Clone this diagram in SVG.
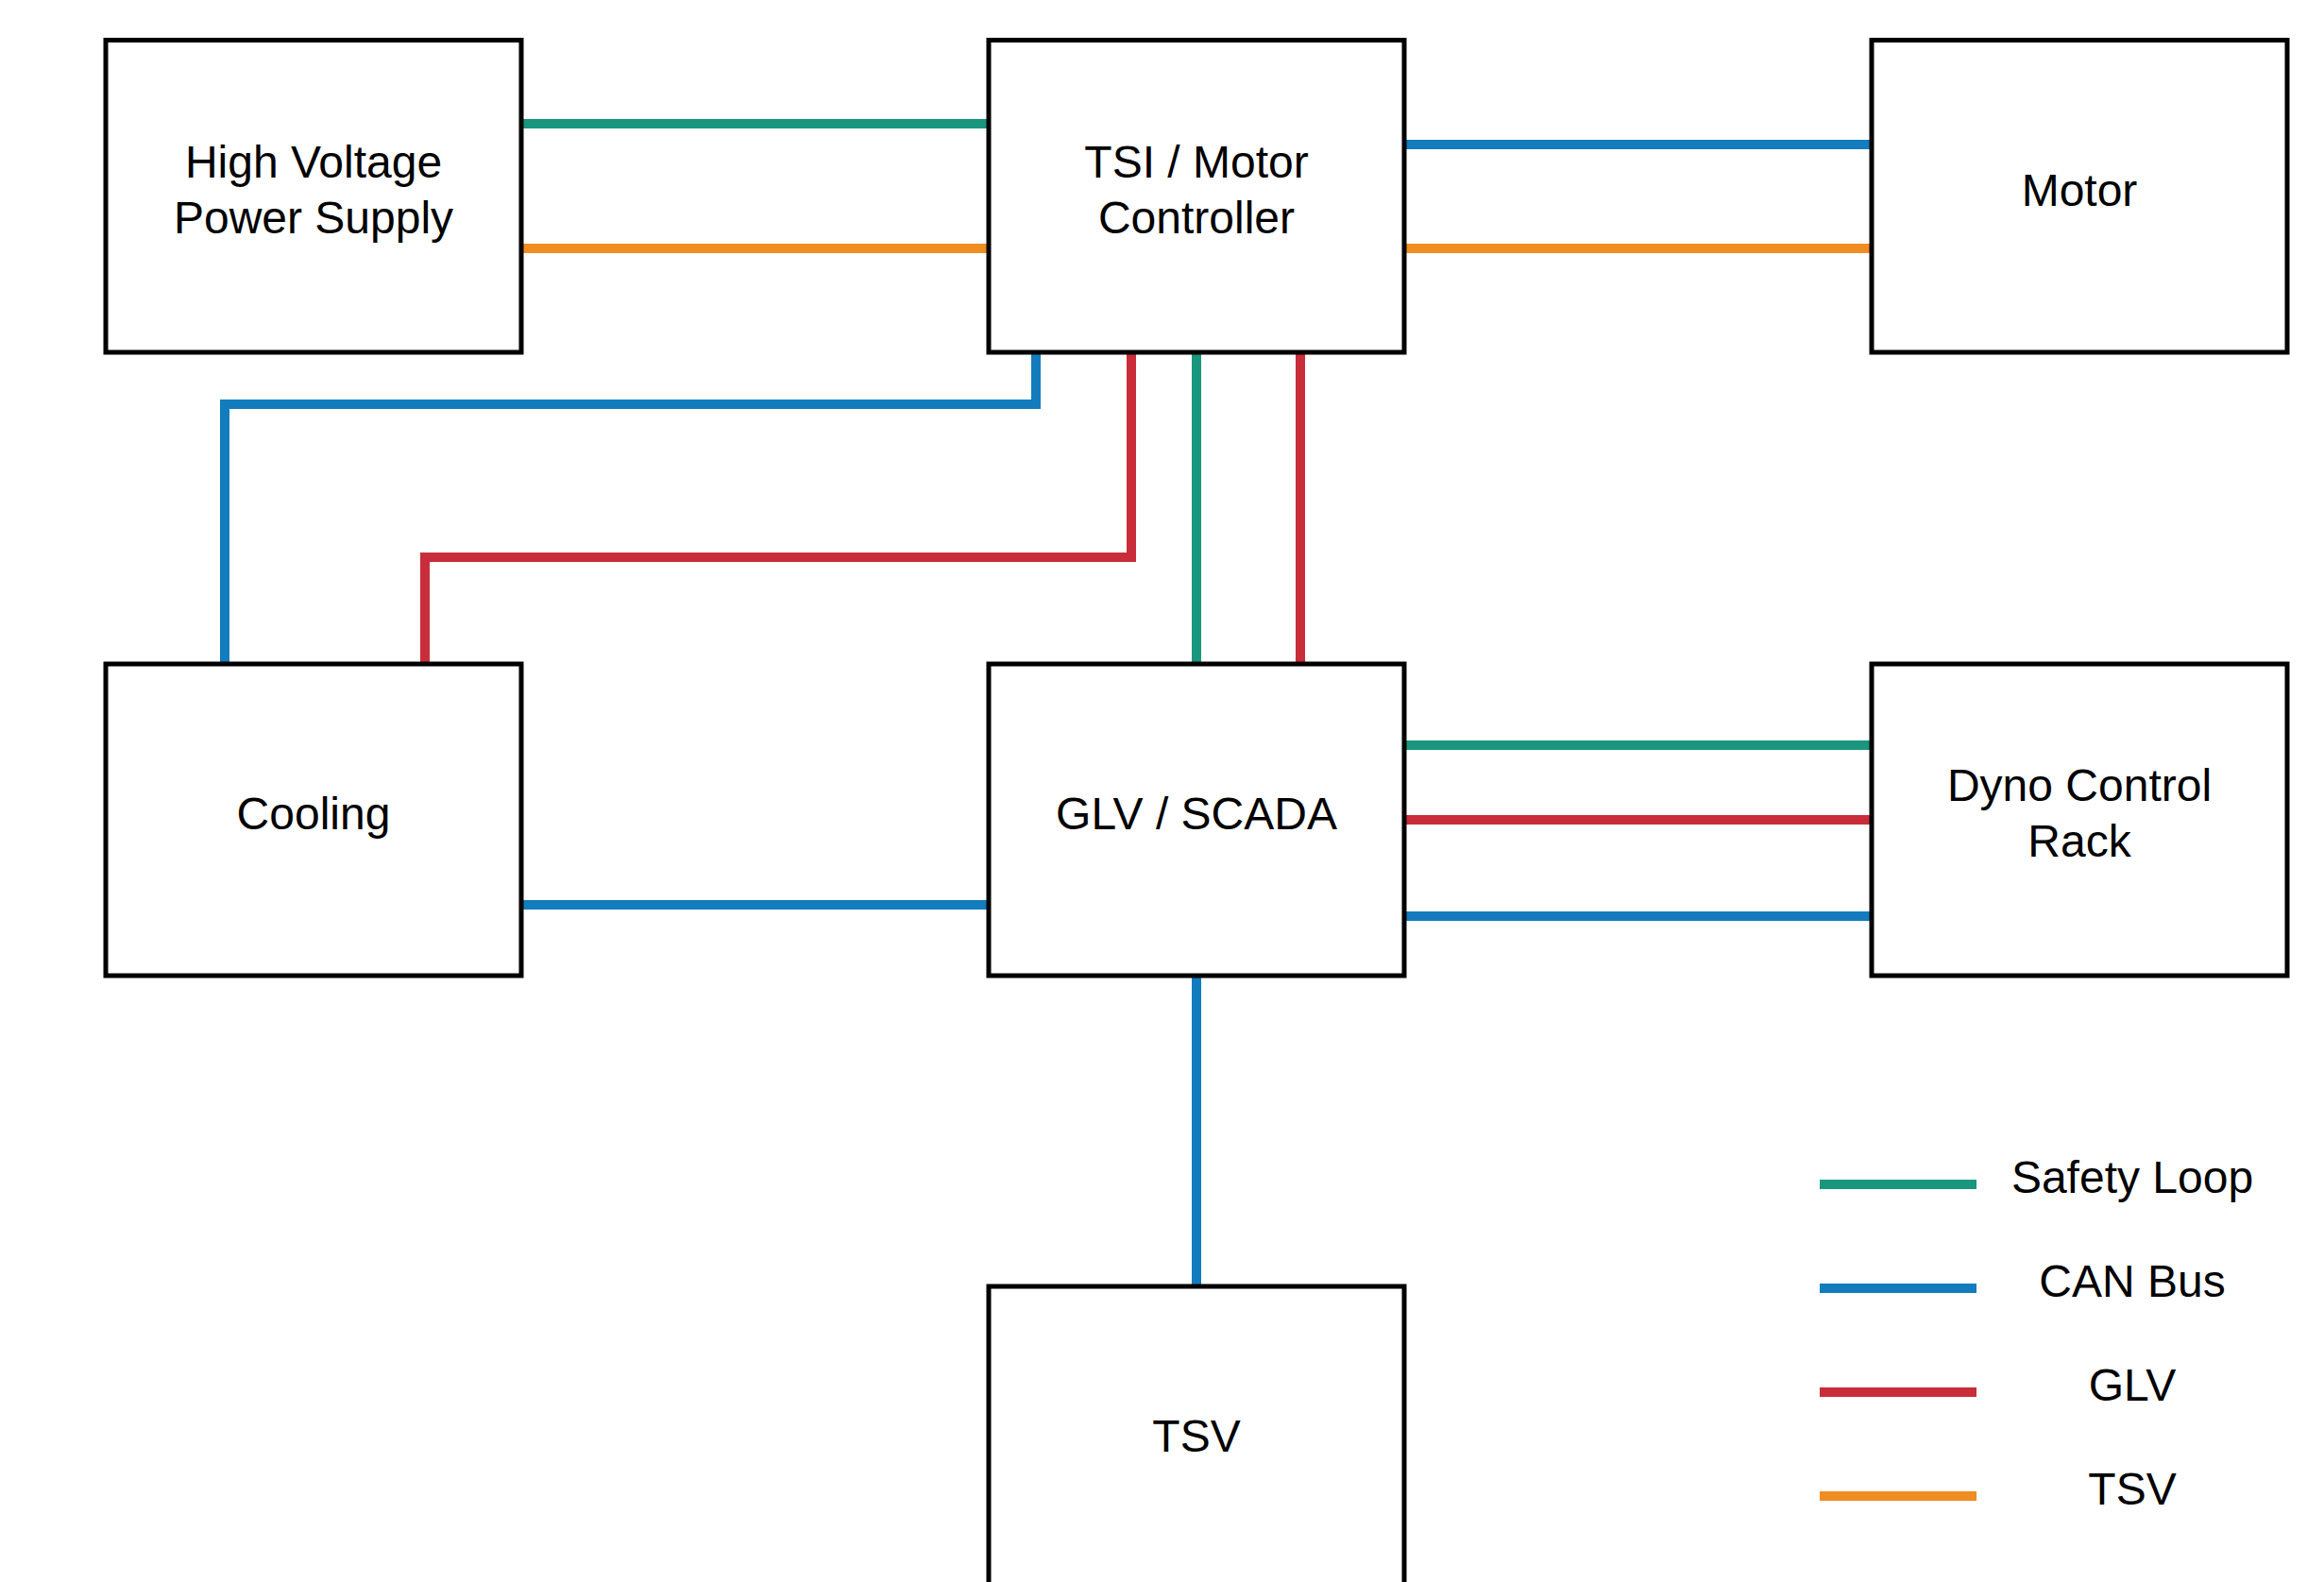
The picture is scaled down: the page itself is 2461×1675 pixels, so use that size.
<svg xmlns="http://www.w3.org/2000/svg" width="2461" height="1675" viewBox="0 0 2461 1675">
<style>
.box{fill:#fff;stroke:#000;stroke-width:5}
.lbl{font-family:"Liberation Sans",Arial,sans-serif;font-size:48px;fill:#000;text-anchor:middle}
.w{fill:none;stroke-width:10;stroke-linejoin:miter;stroke-linecap:butt}
.g{stroke:#19967d}
.b{stroke:#137cbd}
.r{stroke:#c92d39}
.o{stroke:#ef8d22}
</style>
<rect width="2461" height="1675" fill="#fff"/>
<g id="connectors">
<path class="w g" d="M552 131H1047"/>
<path class="w o" d="M552 263H1047"/>
<path class="w b" d="M1487 153H1982"/>
<path class="w o" d="M1487 263H1982"/>
<path class="w b" d="M1097 373V428H238V703"/>
<path class="w r" d="M1198 373V590H450V703"/>
<path class="w g" d="M1267 373V703"/>
<path class="w r" d="M1377 373V703"/>
<path class="w b" d="M552 958H1047"/>
<path class="w g" d="M1487 789H1982"/>
<path class="w r" d="M1487 868H1982"/>
<path class="w b" d="M1487 970H1982"/>
<path class="w b" d="M1267 1033V1362"/>
</g>
<g id="hv"><rect class="box" x="112" y="42.5" width="440" height="330.5"/><text class="lbl" x="332" y="188">High Voltage</text><text class="lbl" x="332" y="247">Power Supply</text></g>
<g id="tsi"><rect class="box" x="1047" y="42.5" width="440" height="330.5"/><text class="lbl" x="1267" y="188">TSI / Motor</text><text class="lbl" x="1267" y="247">Controller</text></g>
<g id="motor"><rect class="box" x="1982" y="42.5" width="440" height="330.5"/><text class="lbl" x="2202" y="218">Motor</text></g>
<g id="cooling"><rect class="box" x="112" y="703" width="440" height="330"/><text class="lbl" x="332" y="878">Cooling</text></g>
<g id="glv"><rect class="box" x="1047" y="703" width="440" height="330"/><text class="lbl" x="1267" y="878">GLV / SCADA</text></g>
<g id="dyno"><rect class="box" x="1982" y="703" width="440" height="330"/><text class="lbl" x="2202" y="848">Dyno Control</text><text class="lbl" x="2202" y="907">Rack</text></g>
<g id="tsv"><rect class="box" x="1047" y="1362" width="440" height="330"/><text class="lbl" x="1267" y="1537">TSV</text></g>
<g id="legend">
<path class="w g" d="M1927 1254H2093"/>
<path class="w b" d="M1927 1364H2093"/>
<path class="w r" d="M1927 1474H2093"/>
<path class="w o" d="M1927 1584H2093"/>
<text class="lbl" x="2258" y="1263">Safety Loop</text>
<text class="lbl" x="2258" y="1373">CAN Bus</text>
<text class="lbl" x="2258" y="1483">GLV</text>
<text class="lbl" x="2258" y="1593">TSV</text>
</g>
</svg>
